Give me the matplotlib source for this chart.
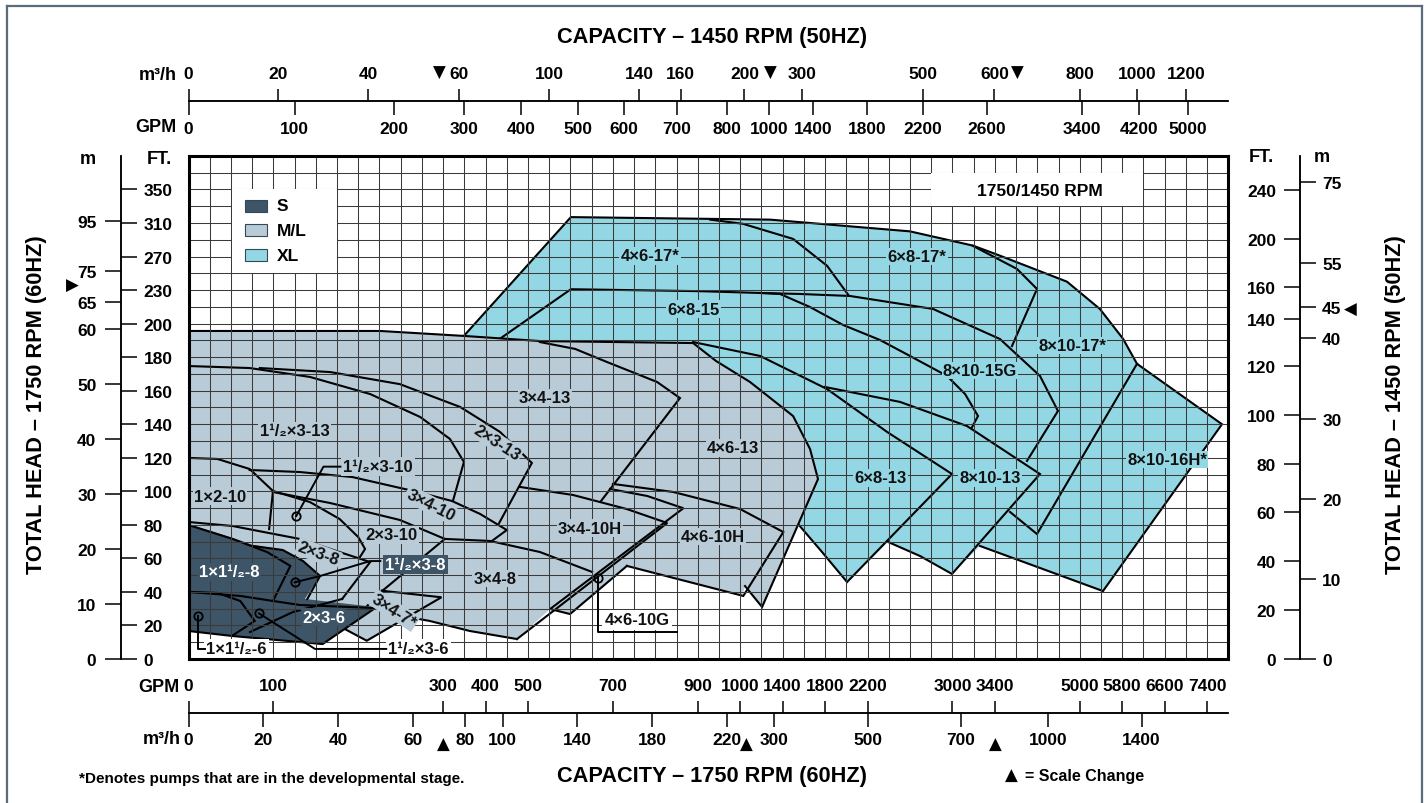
import numpy as np
import matplotlib
matplotlib.use("Agg")
import matplotlib.pyplot as plt
from matplotlib.patches import Polygon, Rectangle
from matplotlib.lines import Line2D

# ---- scales of the chart (60 Hz: GPM and feet) ----
GPM_BREAKS = [0, 300, 1000, 3400, 7800]
GPM_COLS = [0, 12, 26, 38, 49]
FT_BREAKS = [0, 200, 230, 390]
FT_ROWS = [0, 20, 22, 30]

# ---- rulers ----
BOT_GPM = [0, 100, 300, 400, 500, 700, 900, 1000, 1400, 1800, 2200, 3000, 3400, 5000, 5800, 6600, 7400]
BOT_M3H = [0, 20, 40, 60, 80, 100, 140, 180, 220, 300, 500, 700, 1000, 1400]
M3H_TO_GPM = 4.403
TOP_GPM = [0, 100, 200, 300, 400, 500, 600, 700, 800, 1000, 1400, 1800, 2200, 2600, 3400, 4200, 5000]
TOP_GPM_AT = [0, 125, 242, 350, 483, 618, 725, 850, 968, 1274, 1688, 2198, 2720, 3324, 5048, 6124, 7040]
TOP_M3H = [0, 20, 40, 60, 100, 140, 160, 200, 300, 500, 600, 800, 1000, 1200]
TOP_M3H_AT = [0, 106, 212, 338, 550, 762, 860, 1040, 1586, 2720, 3396, 5000, 6080, 7000]
LEFT_FT = [0, 20, 40, 60, 80, 100, 120, 140, 160, 180, 200, 230, 270, 310, 350]
LEFT_M = [0, 10, 20, 30, 40, 50, 60, 65, 75, 95]
LEFT_M_AT = [0, 32.8, 65.6, 98.4, 131.2, 164.1, 196.9, 219.6, 252.4, 312.8]
RIGHT_FT = [0, 20, 40, 60, 80, 100, 120, 140, 160, 200, 240]
RIGHT_M = [0, 10, 20, 30, 40, 45, 55, 75]
HEAD_50_TO_60 = 1 / 0.6865
M_TO_FT = 3.281

# ---- coverage areas (GPM, ft at 1750 rpm) ----
XL_AREA = [(350, 193), (601, 317), (1281, 314), (2600, 300), (3194, 283), (3496, 271), (4759, 240), (5381, 213),
           (5815, 191), (6079, 176), (7681, 140), (5438, 40.5), (3260, 67.4), (2996, 50.7), (2695, 61.4),
           (2393, 69.8), (2007, 45.9), (1771, 63.8), (1545, 80.5), (1187, 95.4), (670, 143), (363, 188)]
ML_AREA = [(0, 195.6), (226, 195.6), (352, 192.6), (528, 189.6), (889, 188.4), (943, 177.7), (1092, 165.2),
           (1498, 144.9), (1658, 125.2), (1733, 107.3), (1206, 31), (1045, 43.5), (1017, 37.6), (733, 55.5),
           (599, 26.8), (552, 29.8), (474, 11.9), (363, 16.7), (284, 22.7), (259, 25), (210, 10.7), (184, 17.9),
           (172, 17.9), (131, 17.9), (0, 20.9)]
S_AREA = [(0, 80.5), (52, 72.2), (76, 68), (111, 65), (135, 58.4), (155, 49.5), (137, 35.8), (220, 31),
          (158, 8.9), (52, 13.7), (0, 16.7)]

# ---- pump curve outlines (GPM, ft) ----
XL_OUTER = [(350, 193), (601, 317), (1281, 314), (2600, 300), (3194, 283), (3496, 271), (4759, 240), (5381, 213),
            (5815, 191), (6079, 176), (7681, 140), (5438, 40.5), (3260, 67.4)]
XL_4X6_17 = [(929, 314), (1026, 309), (1498, 291), (1818, 259), (2016, 226)]
XL_6X8_15 = [(434, 191), (601, 231), (905, 229), (1187, 227.4), (1375, 226.5), (1658, 214.8), (1969, 199.2),
             (2318, 190.2), (2600, 180.7), (2949, 168.8), (3119, 158), (3241, 144.9), (3185, 138.3)]
XL_8X10_15G = [(1187, 227.4), (1564, 226.5), (2035, 224.7), (2817, 213.1), (3496, 190.8), (4250, 168.8),
               (4589, 147.9), (4005, 118.1)]
XL_6X8_17 = [(3194, 282.6), (3817, 255.2), (4194, 231.3), (3722, 186.6)]
XL_6X8_13 = [(889, 189), (1187, 180.7), (1818, 161), (2384, 135.4), (2996, 110.3), (2007, 45.9), (1771, 63.8),
             (1545, 80.5)]
XL_8X10_13 = [(1799, 162.2), (2506, 153.3), (3138, 138.9), (4250, 110.3), (2996, 50.7), (2695, 61.4), (2393, 69.8)]
XL_8X10_17 = [(6079, 176), (4194, 74.5), (3685, 87.7)]

ML_OUTER = [(0, 195.6), (226, 195.6), (352, 192.6), (528, 189.6), (889, 188.4), (943, 177.7), (1092, 165.2),
            (1498, 144.9), (1658, 125.2), (1733, 107.3), (1206, 31), (1045, 43.5)]
ML_3X4_13 = [(528, 189), (611, 184.9), (686, 177.1), (804, 165.2), (858, 155.6), (672, 94.2)]
ML_15X3_13 = [(0, 174.7), (72, 173.5), (143, 168.2), (214, 158), (273, 144.3), (316, 131.2), (349, 117.5),
              (323, 94.2)]
ML_2X3_13 = [(84, 173.5), (167, 171.1), (249, 163.9), (340, 150.3), (434, 135.4), (509, 116.9), (432, 81.1)]
ML_3X4_10 = [(72, 112.7), (131, 111.5), (193, 108.5), (270, 99.6), (321, 94.2), (387, 86.5), (450, 76.9),
             (415, 70.4)]
ML_1X2_10 = [(0, 119.9), (34, 119.3), (72, 113.3), (99.5, 100.2), (95, 77.5)]
ML_15X3_10 = [(99.5, 100.2), (143, 93.6), (178, 83.5), (200, 72.7), (208, 65.6), (202, 60.8)]
ML_2X3_10 = [(99.5, 99.6), (167, 93), (249, 82.9), (304, 71.6), (228, 40.5)]
ML_3X4_8 = [(304, 71.6), (410, 70.4), (528, 63.8), (651, 51.9)]
ML_3X4_8_LOW = [(474, 11.9), (363, 16.7), (284, 22.7), (259, 25)]
ML_3X4_10H = [(481, 102.6), (606, 97.8), (733, 89.4), (828, 81.1), (474, 11.9)]
ML_4X6_10G = [(693, 101.4), (781, 97.2), (866, 89.9), (552, 29.8), (599, 26.8), (733, 55.5)]
ML_4X6_10H = [(700, 104.4), (842, 99.6), (1000, 89.4), (1406, 75.7), (1029, 37.6), (733, 55.5)]
ML_2X3_8 = [(0, 81.7), (52, 79.3), (131, 71.6), (214, 57.8), (181, 35.8)]
ML_3X4_7 = [(228, 40.7), (298, 36.8), (210, 10.9), (184, 17.9), (228, 40.7)]

S_1X15_8 = [(0, 79.9), (52, 71.6), (92.5, 63.8), (120, 55.5), (99.5, 34.6)]
S_15X3_8 = [(76, 67.4), (111, 65), (135, 58.4), (155, 49.5), (140, 35.8)]
S_1X15_6 = [(0, 40), (34, 39.4), (61, 34.6), (78, 22.7), (51, 13.7)]
S_2X3_6 = [(0, 40), (61, 37.6), (131, 32.2), (220, 30.4), (158, 8.9), (52, 13.7), (0, 16.7)]
S_15X3_6 = [(72.5, 16.1), (123, 28), (181, 35.8)]

XL_LINES = [XL_OUTER, XL_4X6_17, XL_6X8_15, XL_8X10_15G, XL_6X8_17, XL_6X8_13, XL_8X10_13, XL_8X10_17]
ML_LINES = [ML_OUTER, ML_3X4_13, ML_15X3_13, ML_2X3_13, ML_3X4_10, ML_1X2_10, ML_15X3_10, ML_2X3_10, ML_3X4_8,
            ML_3X4_8_LOW, ML_3X4_10H, ML_4X6_10G, ML_4X6_10H, ML_2X3_8, ML_3X4_7]
S_LINES = [S_1X15_8, S_15X3_8, S_1X15_6, S_2X3_6, S_15X3_6]

# label text, GPM, ft, rotation, background family
LABELS = [
    ("4×6-17*", 787, 271, 0, "XL"), ("6×8-17*", 2666, 270, 0, "XL"), ("6×8-15", 889, 213, 0, "XL"),
    ("8×10-17*", 4853, 187, 0, "XL"), ("8×10-15G", 3260, 172, 0, "XL"), ("6×8-13", 2318, 108, 0, "XL"),
    ("8×10-13", 3354, 108, 0, "XL"), ("8×10-16H*", 6644, 119, 0, "XL"),
    ("3×4-13", 540, 156, 0, "ML"), ("4×6-13", 983, 126, 0, "ML"), ("1¹/₂×3-13", 125, 136, 0, "ML"),
    ("2×3-13", 427, 129, -33, "ML"), ("3×4-10", 285, 92, -27, "ML"), ("1×2-10", 37, 97, 0, "ML"),
    ("2×3-10", 239, 74, 0, "ML"), ("3×4-10H", 646, 78, 0, "ML"), ("4×6-10H", 936, 73, 0, "ML"),
    ("2×3-8", 153, 63, -20, "ML"), ("3×4-8", 422, 48, 0, "ML"), ("3×4-7*", 242, 29, -33, "ML"),
    ("1×1¹/₂-8", 48, 52, 0, "S"), ("2×3-6", 159, 25, 0, "S"),
]
# leader-line callouts: text, path from the marked point, text position, background
CALLOUTS = [
    ("1¹/₂×3-10", [(127, 85.3), (159, 114.7), (179, 114.7)], (182, 114.7), "ML"),
    ("1¹/₂×3-8", [(125, 45.7), (155, 49.5), (214, 58.4), (226, 58.4)], (267, 56.4), "S"),
    ("1×1¹/₂-6", [(11.5, 25.8), (11.5, 6), (19.4, 6)], (21, 6), "W"),
    ("1¹/₂×3-6", [(83, 27.2), (149, 6), (233, 6)], (235, 6), "W"),
    ("4×6-10G", [(664, 48.1), (664, 15.9), (850, 15.9)], (757, 23.3), "W"),
]

COLORS = {"S": "#3e5467", "ML": "#b8cbd7", "XL": "#94d7e4", "W": "white"}
W, H = 1426, 804
plt.rcParams["font.family"] = ["Liberation Sans", "DejaVu Sans"]
plt.rcParams["font.weight"] = "bold"
TICK_FS = 12.5
LABEL_FS = 12
MARK = dict(family="DejaVu Sans", fontsize=12, ha="center", va="center")


def fbox(x0, y0, x1, y1):
    return [x0 / W, 1 - y1 / H, (x1 - x0) / W, max(y1 - y0, 0.01) / H]


def q_fwd(q):
    return np.interp(q, GPM_BREAKS, GPM_COLS)


def q_inv(c):
    return np.interp(c, GPM_COLS, GPM_BREAKS)


def h_fwd(h):
    return np.interp(h, FT_BREAKS, FT_ROWS)


def h_inv(r):
    return np.interp(r, FT_ROWS, FT_BREAKS)


def setup(ax):
    ax.set_xscale("function", functions=(q_fwd, q_inv))
    ax.set_yscale("function", functions=(h_fwd, h_inv))
    ax.set_xlim(0, 7800)
    ax.set_ylim(0, 390)


fig = plt.figure(figsize=(W / 100, H / 100), dpi=100)

# main chart
ax = fig.add_axes(fbox(188.5, 156.9, 1228.3, 660))
setup(ax)
ax.set_xticks(q_inv(np.arange(50)))
ax.set_yticks(h_inv(np.arange(31)))
ax.tick_params(length=0, labelbottom=False, labelleft=False)
ax.grid(True, color="#3a3a3a", lw=0.75)
ax.set_axisbelow(False)
for s in ax.spines.values():
    s.set_linewidth(2.2)
    s.set_zorder(6)

z = 1.0
for fam, area, lines in (("XL", XL_AREA, XL_LINES), ("ML", ML_AREA, ML_LINES), ("S", S_AREA, S_LINES)):
    ax.add_patch(Polygon(area, closed=True, fc=COLORS[fam], ec="none", zorder=z))
    for ln in lines:
        xs, ys = zip(*ln)
        ax.plot(xs, ys, color="black", lw=1.5, solid_joinstyle="miter", zorder=z + 0.1)
    z += 0.2

for txt, q, h, rot, fam in LABELS:
    col = "white" if fam == "S" else "#111111"
    ax.text(q, h, txt, ha="center", va="center", rotation=rot, fontsize=LABEL_FS, color=col, zorder=4,
            bbox=dict(fc=COLORS[fam], ec="none", pad=1.0))
for txt, path, (tq, th), fam in CALLOUTS:
    xs, ys = zip(*path)
    ax.plot(xs, ys, color="black", lw=1.4, zorder=4.5)
    ax.plot(xs[0], ys[0], "o", ms=6, mfc="none", mec="black", mew=1.3, zorder=4.6)
    col = "white" if fam == "S" else "#111111"
    ha = "center" if fam == "S" or txt.startswith("4×6") else "left"
    ax.text(tq, th, txt, ha=ha, va="center", fontsize=LABEL_FS, color=col, zorder=4.4,
            bbox=dict(fc=COLORS[fam], ec="none", pad=1.6))


def pxrect(x0, y0, x1, y1, **kw):
    fig.add_artist(Rectangle((x0 / W, 1 - y1 / H), (x1 - x0) / W, (y1 - y0) / H,
                             transform=fig.transFigure, **kw))


# legend and speed note inside the grid
pxrect(232, 190.4, 337, 274.3, fc="white", ec="none", zorder=5)
for i, (name, fam) in enumerate((("S", "S"), ("M/L", "ML"), ("XL", "XL"))):
    y = 200.7 + i * 24.7
    pxrect(245, y, 267, y + 12, fc=COLORS[fam], ec="#34485a", lw=0.8, zorder=5.1)
    fig.text(277 / W, 1 - (y + 6) / H, name, fontsize=12.5, va="center", ha="left", zorder=5.2)
pxrect(931, 173.7, 1143, 207.2, fc="white", ec="none", zorder=5)
fig.text(1040 / W, 1 - 192 / H, "1750/1450 RPM", fontsize=12.5, ha="center", va="center", zorder=5.2)


def hruler(y, side, vals, labels, ticklen, pad):
    r = fig.add_axes(fbox(188.5, y, 1228.3, y))
    setup(r)
    r.set_yticks([])
    for k, s in r.spines.items():
        s.set_visible(k == "bottom")
        s.set_linewidth(1.1)
    r.patch.set_visible(False)
    if side == "top":
        r.xaxis.tick_top()
    r.set_xticks(vals)
    r.set_xticklabels(labels)
    r.tick_params(axis="x", direction="out", length=ticklen, width=1.1, pad=pad, labelsize=TICK_FS)


def vruler(x, side, vals, labels, ticklen, pad):
    r = fig.add_axes(fbox(x, 156.9, x + 0.01, 660))
    setup(r)
    r.set_xticks([])
    for k, s in r.spines.items():
        s.set_visible(k == "left")
        s.set_linewidth(1.1)
    r.patch.set_visible(False)
    if side == "right":
        r.yaxis.tick_right()
    r.set_yticks(vals)
    r.set_yticklabels(labels)
    r.tick_params(axis="y", direction="out", length=ticklen, width=1.1, pad=pad, labelsize=TICK_FS)


hruler(102.3, "top", TOP_M3H_AT, TOP_M3H, 9, 5.5)
hruler(102.3, "bottom", TOP_GPM_AT, TOP_GPM, 10, 4)
hruler(714, "top", BOT_GPM, BOT_GPM, 9, 5.5)
hruler(714, "bottom", np.array(BOT_M3H) * M3H_TO_GPM, BOT_M3H, 10, 4)
vruler(120.5, "right", LEFT_FT, LEFT_FT, 11.5, 5)
vruler(120.5, "left", LEFT_M_AT, LEFT_M, 11.5, 5.8)
vruler(1300, "left", np.array(RIGHT_FT) * HEAD_50_TO_60, RIGHT_FT, 11.5, 5.8)
vruler(1300, "right", np.array(RIGHT_M) * M_TO_FT * HEAD_50_TO_60, RIGHT_M, 11.5, 4.5)


def ptext(x, y, s, **kw):
    fig.text(x / W, 1 - y / H, s, **kw)


ptext(712, 38, "CAPACITY – 1450 RPM (50HZ)", fontsize=15.7, ha="center", va="center")
ptext(712, 777, "CAPACITY – 1750 RPM (60HZ)", fontsize=15.7, ha="center", va="center")
ptext(37, 405, "TOTAL HEAD – 1750 RPM (60HZ)", fontsize=15.7, ha="center", va="center", rotation=90)
ptext(1396, 405, "TOTAL HEAD – 1450 RPM (50HZ)", fontsize=15.7, ha="center", va="center", rotation=90)
ptext(177, 75, "m³/h", fontsize=13, ha="right", va="center")
ptext(176, 127, "GPM", fontsize=13, ha="right", va="center")
ptext(179, 688, "GPM", fontsize=13, ha="right", va="center")
ptext(181, 740, "m³/h", fontsize=13, ha="right", va="center")
ptext(88, 159, "m", fontsize=13, ha="center", va="center")
ptext(172, 159, "FT.", fontsize=13, ha="right", va="center")
ptext(1274, 158, "FT.", fontsize=13, ha="right", va="center")
ptext(1322, 158, "m", fontsize=13, ha="center", va="center")
for x in (439, 770, 1017):
    ptext(x, 73, "▼", **MARK)
for x in (443, 746, 995):
    ptext(x, 745, "▲", **MARK)
ptext(72, 286, "▶", **MARK)
ptext(1350, 310, "◀", **MARK)
ptext(1011, 776, "▲", **MARK)
ptext(1025, 777, "= Scale Change", fontsize=11.5, ha="left", va="center")
ptext(79, 779, "*Denotes pumps that are in the developmental stage.", fontsize=11, ha="left", va="center")

# outer frame
for xs, ys in (([7, 7], [7, 804]), ([7, 1421.5], [7, 7]), ([1421.5, 1421.5], [7, 804])):
    fig.add_artist(Line2D(np.array(xs) / W, 1 - np.array(ys) / H, color="#5a6b7b", lw=1.6,
                          transform=fig.transFigure))

fig.savefig("out.png", dpi=100)
